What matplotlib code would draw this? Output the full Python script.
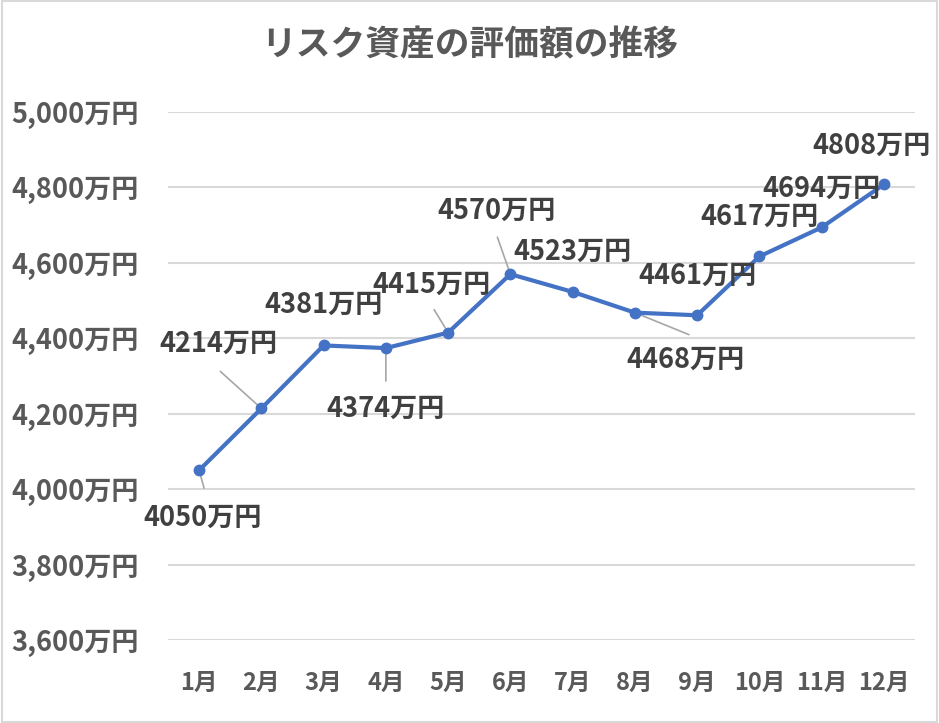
import matplotlib.pyplot as plt
from matplotlib.patches import Rectangle

plt.rcParams['font.family'] = ['Noto Sans CJK JP', 'DejaVu Sans']

# data
months = ['1月', '2月', '3月', '4月', '5月', '6月', '7月', '8月', '9月', '10月', '11月', '12月']
values = [4050, 4214, 4381, 4374, 4415, 4570, 4523, 4468, 4461, 4617, 4694, 4808]
yticks = [3600, 3800, 4000, 4200, 4400, 4600, 4800, 5000]

# label placement (pixel offsets from each point: label centre, leader start or None)
label_off = [(4, -48), (-43, 65), (0, 41), (0, -61), (-17, 48), (-14, 63),
             (0, 40), (51, -47), (0, 39), (0, 40), (0, 39), (-12, 39)]
leader_off = [(5, -18), (-41, 37), None, (0, -33), (-14, 23), (-13, 37),
              None, (54, -22), None, None, None, None]

fig = plt.figure(figsize=(9.39, 7.23), dpi=100)
ax = fig.add_axes([168 / 939, 83 / 723, 747 / 939, 528 / 723])

fig.patches.append(Rectangle((0.002, 0.002), 0.996, 0.996, transform=fig.transFigure,
                             fill=False, edgecolor='#D9D9D9', linewidth=1.5))

x = list(range(len(months)))
ax.plot(x, values, color='#4472C4', linewidth=3, marker='o', markersize=7.5,
        solid_capstyle='round', zorder=3)

for i, v in enumerate(values):
    dx, dy = label_off[i]
    ax.annotate(f'{v}万円', (i, v), xytext=(dx, dy), textcoords='offset pixels',
                ha='center', va='center', fontsize=19.5, fontweight='bold',
                color='#404040', zorder=4)
    if leader_off[i] is not None:
        ax.annotate('', (i, v), xytext=leader_off[i], textcoords='offset pixels',
                    arrowprops=dict(arrowstyle='-', color='#A6A6A6', linewidth=1.2,
                                    shrinkA=0, shrinkB=4), zorder=2)

ax.set_xlim(-0.5, len(months) - 0.5)
ax.set_ylim(3600, 5000)
ax.set_yticks(yticks)
ax.set_yticklabels([f'{t:,}万円' for t in yticks])
ax.set_xticks(x)
ax.set_xticklabels(months)
ax.grid(axis='y', color='#D9D9D9', linewidth=1.5)
ax.set_axisbelow(True)
for s in ax.spines.values():
    s.set_visible(False)
ax.tick_params(length=0, colors='#595959')
ax.tick_params(axis='y', pad=21, labelsize=19.5)
ax.tick_params(axis='x', pad=22, labelsize=17)
for lab in ax.get_xticklabels() + ax.get_yticklabels():
    lab.set_fontweight('bold')

fig.text(0.5, 1 - 45 / 723, 'リスク資産の評価額の推移', ha='center', va='center',
         fontsize=25, fontweight='bold', color='#595959')

fig.savefig('out.png', dpi=100)
